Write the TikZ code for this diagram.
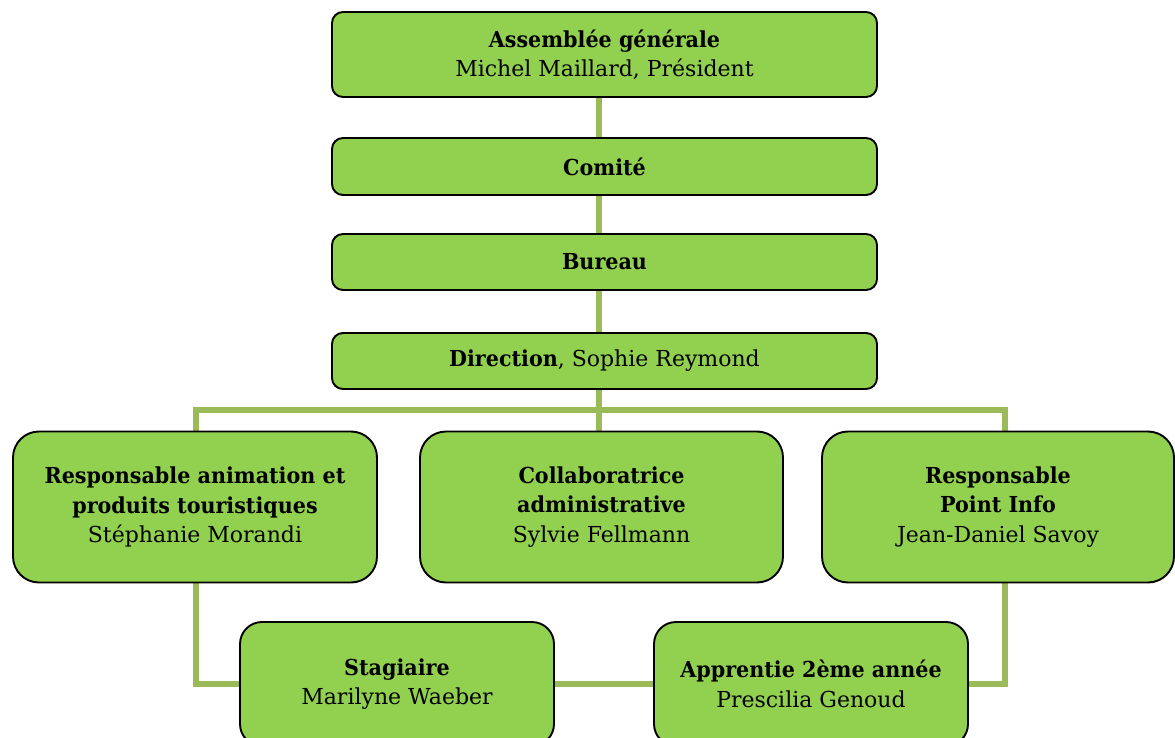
\documentclass[tikz,border=0pt]{standalone}
\usepackage{fontspec}
\setmainfont{DejaVu Serif}[BoldFeatures={FakeStretch=0.94}]
\usetikzlibrary{backgrounds}
\definecolor{boxfill}{HTML}{92D050}
\definecolor{linkgreen}{HTML}{9BBB59}
\begin{document}
\begin{tikzpicture}[x=1pt,y=-1pt,
  box/.style={draw=black, line width=1.9pt, fill=boxfill, rounded corners=11pt,
    inner sep=0pt, align=center, font=\fontsize{22}{29.5}\selectfont},
  bigbox/.style={box, rounded corners=26pt, minimum height=151pt},
  lowbox/.style={box, rounded corners=22pt, minimum width=314pt, minimum height=124pt},
  link/.style={draw=linkgreen, line width=6pt, line join=miter}]
\useasboundingbox (0,0) rectangle (1175,738);
\clip (0,0) rectangle (1175,738);

\node[box, minimum width=545pt, minimum height=85pt] (ag) at (604.5,54.5)
  {\textbf{Assemblée générale}\\Michel Maillard, Président};
\node[box, minimum width=545pt, minimum height=57pt] (com) at (604.5,166.5)
  {\textbf{Comité}};
\node[box, minimum width=545pt, minimum height=56pt] (bur) at (604.5,262)
  {\textbf{Bureau}};
\node[box, minimum width=545pt, minimum height=56pt] (dir) at (604.5,361)
  {\textbf{Direction}, Sophie Reymond};

\node[bigbox, minimum width=364pt] (resp1) at (195,507)
  {\textbf{Responsable animation et}\\\textbf{produits touristiques}\\Stéphanie Morandi};
\node[bigbox, minimum width=363pt] (collab) at (601.5,507)
  {\textbf{Collaboratrice}\\\textbf{administrative}\\Sylvie Fellmann};
\node[bigbox, minimum width=352pt] (resp2) at (998,507)
  {\textbf{Responsable}\\\textbf{Point Info}\\Jean-Daniel Savoy};

\node[lowbox] (stag) at (397,684)
  {\textbf{Stagiaire}\\Marilyne Waeber};
\node[lowbox] (appr) at (811,684)
  {\textbf{Apprentie 2ème année}\\Prescilia Genoud};

\coordinate (spine) at (599,0);
\coordinate (lx) at (196,410);
\coordinate (rx) at (1005,410);

\begin{scope}[on background layer]
\draw[link] (spine |- ag.south) -- (spine |- com.north);
\draw[link] (spine |- com.south) -- (spine |- bur.north);
\draw[link] (spine |- bur.south) -- (spine |- dir.north);
\draw[link] (spine |- dir.south) -- (spine |- collab.north);
\draw[link] (lx |- resp1.north) -- (lx) -- (rx) -- (rx |- resp2.north);
\draw[link] (lx |- resp1.south) |- (stag.west);
\draw[link] (stag.east) -- (appr.west);
\draw[link] (appr.east) -| (rx |- resp2.south);
\end{scope}
\end{tikzpicture}
\end{document}
